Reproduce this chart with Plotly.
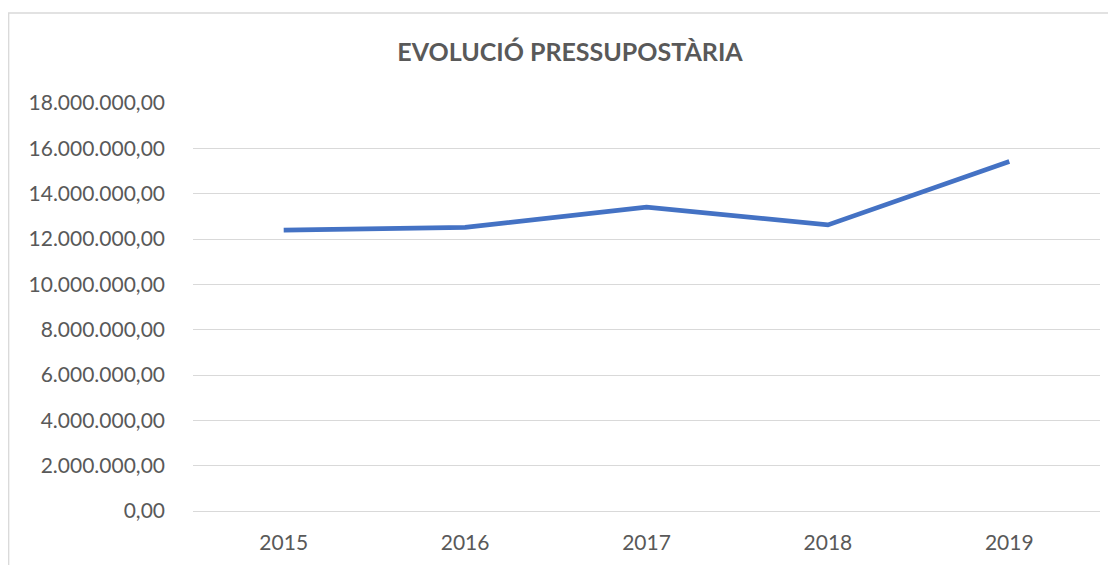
import plotly.graph_objects as go

years = ["2015", "2016", "2017", "2018", "2019"]
budget = [12390000, 12510000, 13410000, 12620000, 15420000]
title_text = "EVOLUCIÓ PRESSUPOSTÀRIA"

fig = go.Figure()
fig.add_trace(go.Scatter(
    x=years, y=budget, mode="lines",
    line=dict(color="#4472C4", width=4.7),
    hoverinfo="skip", showlegend=False,
))

# page body has an 8px margin, so figure coords = reference coords - 8
W, H = 1108, 557
ml, mr, mt, mb = 185, 16, 95, 54
pw, ph = W - ml - mr, H - mt - mb

fig.update_layout(
    width=W, height=H,
    margin=dict(l=ml, r=mr, t=mt, b=mb, autoexpand=False),
    paper_bgcolor="white", plot_bgcolor="white",
    separators=",.",
    font=dict(family="Lato", color="#595959", size=21),
    title=dict(text="<b>" + title_text + "</b>", x=(562 - ml) / pw, xref="paper",
               xanchor="center", y=1 - 44 / H, yanchor="middle",
               font=dict(family="Lato", size=25, color="#595959")),
    xaxis=dict(type="category", showgrid=False, showline=False, zeroline=False,
               ticks="", ticklabelstandoff=17, tickfont=dict(size=21),
               range=[-0.5, 4.5]),
    yaxis=dict(range=[0, 18000000], dtick=2000000, tickformat=",.2f",
               showgrid=True, gridcolor="#d9d9d9", gridwidth=1.3,
               zeroline=True, zerolinecolor="#d9d9d9", zerolinewidth=1.3,
               showline=False, ticks="", ticklabelstandoff=27,
               tickfont=dict(size=21)),
    shapes=[dict(type="rect", xref="paper", yref="paper",
                 x0=(0.7 - ml) / pw, x1=1.2, y0=-0.3, y1=1 + (mt - 5) / ph,
                 line=dict(color="#d9d9d9", width=1.3), fillcolor="rgba(0,0,0,0)",
                 layer="below")],
)

fig.write_html("out.html")
